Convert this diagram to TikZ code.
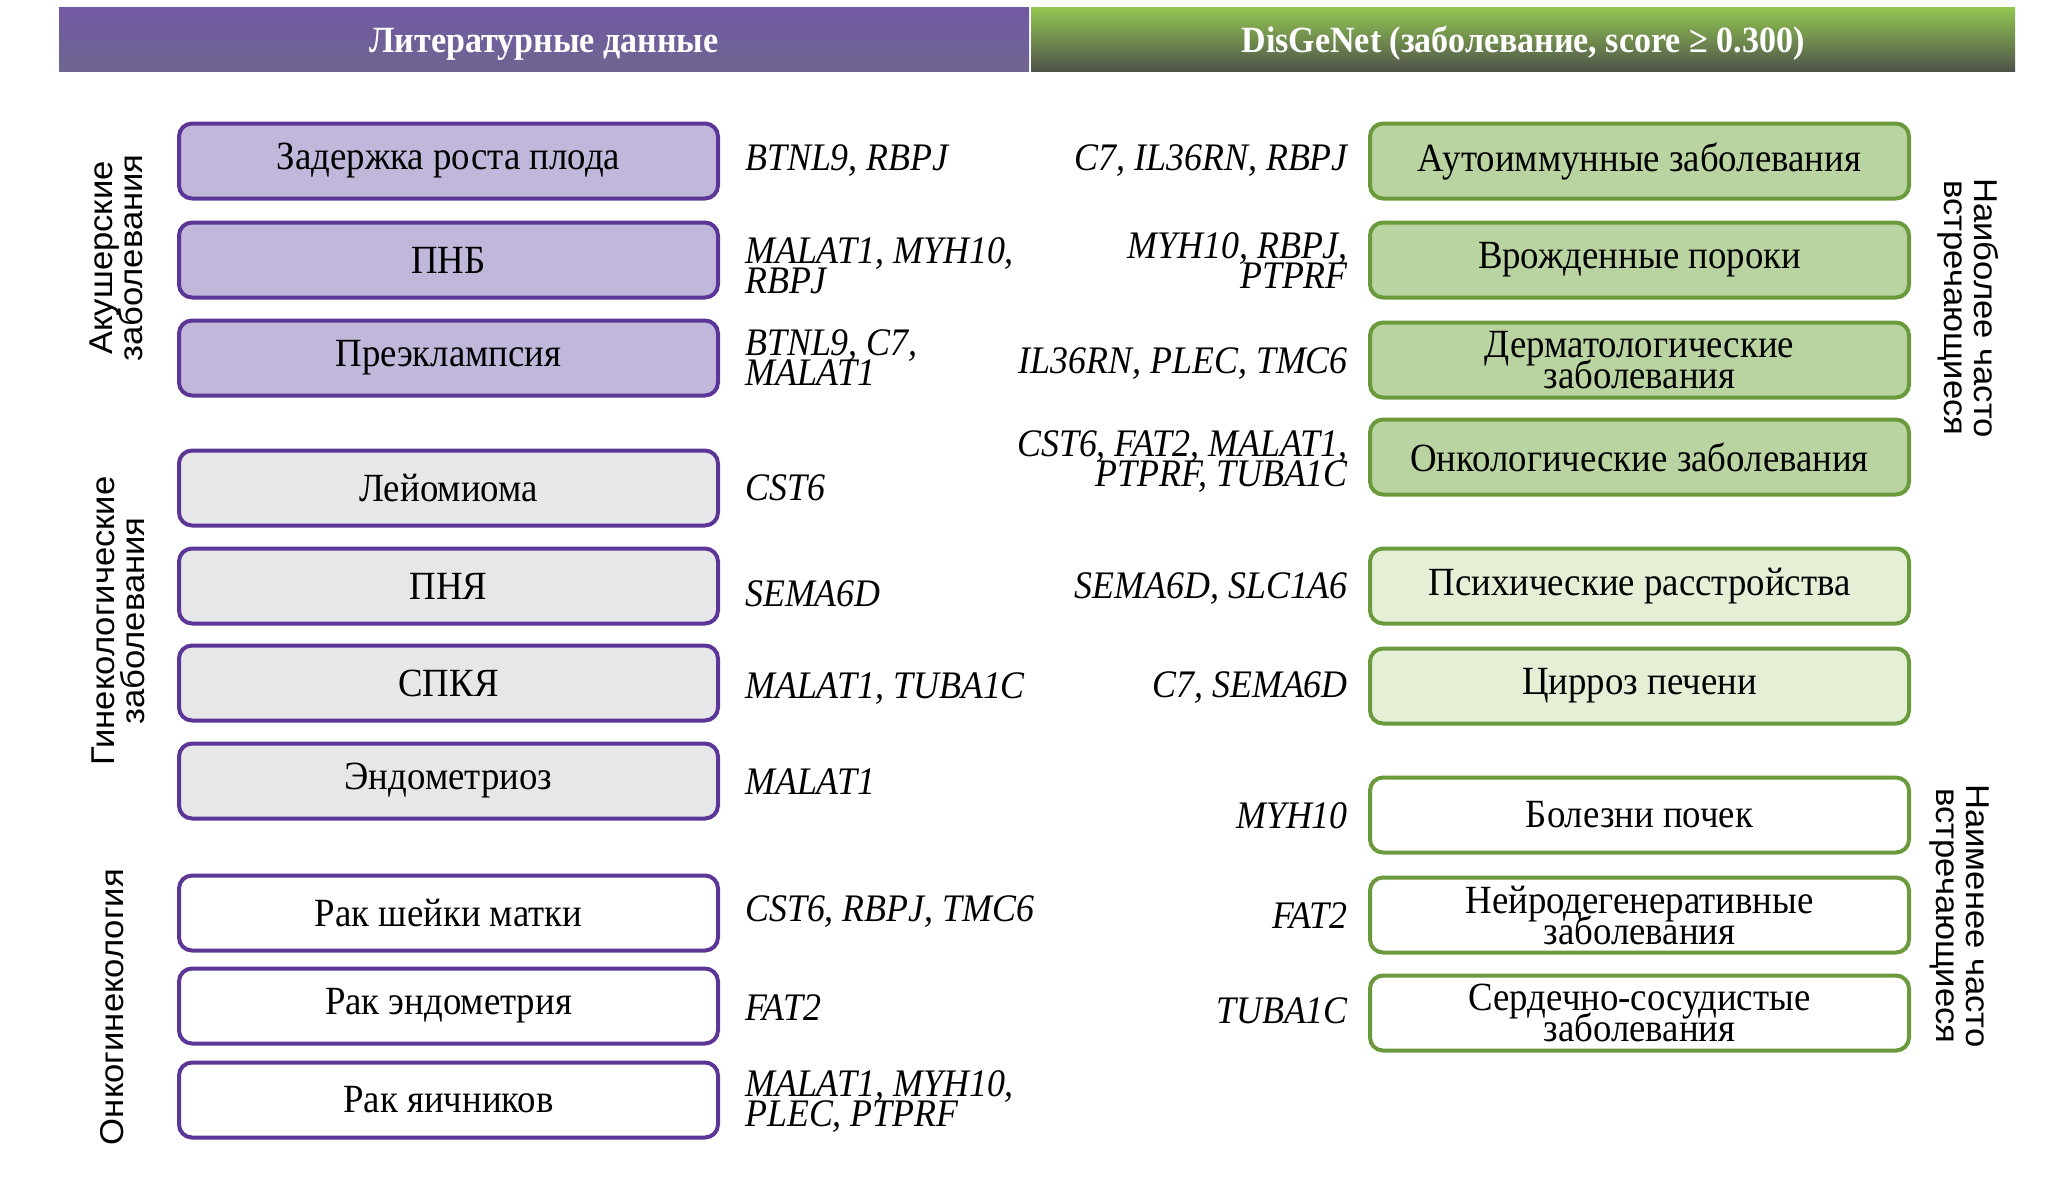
\documentclass[tikz,border=0pt]{standalone}
\usepackage{fontspec}
\setmainfont[FakeStretch=0.92]{Liberation Serif}
\newfontfamily\sidefont[FakeStretch=1.05]{Liberation Sans}
\newcommand\tightlines{\lineskiplimit=-50pt\relax\lineskip=0pt\relax}
\newcommand\boxfnt{\fontsize{40}{31}\selectfont\tightlines}
\newcommand\genefnt{\fontsize{39}{30}\selectfont\itshape\tightlines}
\newcommand\sidefnt{\sidefont\fontsize{33}{30}\selectfont\tightlines}
\definecolor{purpTop}{HTML}{7159A4}
\definecolor{purpBot}{HTML}{6F6590}
\definecolor{grnTop}{HTML}{93C751}
\definecolor{grnBot}{HTML}{4F534A}
\definecolor{purpFill}{HTML}{C0B7DB}
\definecolor{purpLine}{HTML}{5C3697}
\definecolor{greyFill}{HTML}{E7E6E8}
\definecolor{grnFill}{HTML}{B9D4A0}
\definecolor{lgrnFill}{HTML}{E4EFD6}
\definecolor{grnLine}{HTML}{6A9A3C}
\tikzset{
  box/.style={draw, rounded corners=13pt, line width=4pt, minimum width=539pt,
    minimum height=75pt, align=center, inner sep=0pt, font=\boxfnt},
  lbox/.style={box, draw=purpLine},
  rbox/.style={box, draw=grnLine},
  gene/.style={font=\genefnt, inner sep=0pt},
  lgene/.style={gene, anchor=west, align=left},
  rgene/.style={gene, anchor=east, align=right},
  hdr/.style={minimum height=64pt, inner sep=0pt, text=white, text height=27pt, text depth=0pt,
    font=\fontsize{37}{40}\selectfont\bfseries},
  side/.style={font=\sidefnt, align=center, inner sep=0pt}
}
\begin{document}
\begin{tikzpicture}[x=1pt,y=-1pt]
\useasboundingbox (0,0) rectangle (2067,1181);
% headers
\node[hdr, minimum width=970pt, top color=purpTop, bottom color=purpBot] (hl) at (544,39) {Литературные данные};
\node[hdr, minimum width=984pt, top color=grnTop, bottom color=grnBot] (hr) at (1523,39) {DisGeNet (заболевание, score ≥ 0.300)};
% left boxes
\node[lbox, fill=purpFill] (l1) at (448.5,161) {Задержка роста плода};
\node[lbox, fill=purpFill] (l2) at (448.5,260) {ПНБ};
\node[lbox, fill=purpFill] (l3) at (448.5,358) {Преэклампсия};
\node[lbox, fill=greyFill] (l4) at (448.5,488) {Лейомиома};
\node[lbox, fill=greyFill] (l5) at (448.5,586) {ПНЯ};
\node[lbox, fill=greyFill] (l6) at (448.5,683) {СПКЯ};
\node[lbox, fill=greyFill] (l7) at (448.5,781) {Эндометриоз};
\node[lbox, fill=white] (l8) at (448.5,913) {Рак шейки матки};
\node[lbox, fill=white] (l9) at (448.5,1006) {Рак эндометрия};
\node[lbox, fill=white] (l10) at (448.5,1100) {Рак яичников};
% left genes
\node[lgene] (g1) at (745,161) {BTNL9, RBPJ};
\node[lgene] (g2) at (745,266) {MALAT1, MYH10,\\RBPJ};
\node[lgene] (g3) at (745,358) {BTNL9, C7,\\MALAT1};
\node[lgene] (g4) at (745,488) {CST6};
\node[lgene] (g5) at (745,594) {SEMA6D};
\node[lgene] (g6) at (745,689) {MALAT1, TUBA1C};
\node[lgene] (g7) at (745,782) {MALAT1};
\node[lgene] (g8) at (745,912) {CST6, RBPJ, TMC6};
\node[lgene] (g9) at (745,1008) {FAT2};
\node[lgene] (g10) at (745,1102) {MALAT1, MYH10,\\PLEC, PTPRF};
% right boxes
\node[rbox, fill=grnFill] (r1) at (1639.5,161) {Аутоиммунные заболевания};
\node[rbox, fill=grnFill] (r2) at (1639.5,260) {Врожденные пороки};
\node[rbox, fill=grnFill] (r3) at (1639.5,360) {Дерматологические\\заболевания};
\node[rbox, fill=grnFill] (r4) at (1639.5,457) {Онкологические заболевания};
\node[rbox, fill=lgrnFill] (r5) at (1639.5,586) {Психические расстройства};
\node[rbox, fill=lgrnFill] (r6) at (1639.5,686) {Цирроз печени};
\node[rbox, fill=white] (r7) at (1639.5,815) {Болезни почек};
\node[rbox, fill=white] (r8) at (1639.5,915) {Нейродегенеративные\\заболевания};
\node[rbox, fill=white] (r9) at (1639.5,1013) {Сердечно-сосудистые\\заболевания};
% right genes
\node[rgene] (h1) at (1348,161) {C7, IL36RN, RBPJ};
\node[rgene] (h2) at (1348,261) {MYH10, RBPJ,\\PTPRF};
\node[rgene] (h3) at (1348,364) {IL36RN, PLEC, TMC6};
\node[rgene] (h4) at (1348,462) {CST6, FAT2, MALAT1,\\PTPRF, TUBA1C};
\node[rgene] (h5) at (1348,589) {SEMA6D, SLC1A6};
\node[rgene] (h6) at (1348,688) {C7, SEMA6D};
\node[rgene] (h7) at (1348,816) {MYH10};
\node[rgene] (h8) at (1348,916) {FAT2};
\node[rgene] (h9) at (1348,1011) {TUBA1C};
% side labels
\node[side, rotate=90] (s1) at (116,258) {Акушерские\\заболевания};
\node[side, rotate=90] (s2) at (118,621) {Гинекологические\\заболевания};
\node[side, rotate=90] (s3) at (112,1007) {Онкогинекология};
\node[side, rotate=-90] (s4) at (1968,308) {Наиболее часто\\встречающиеся};
\node[side, rotate=-90] (s5) at (1959,916) {Наименее часто\\встречающиеся};
\end{tikzpicture}
\end{document}
